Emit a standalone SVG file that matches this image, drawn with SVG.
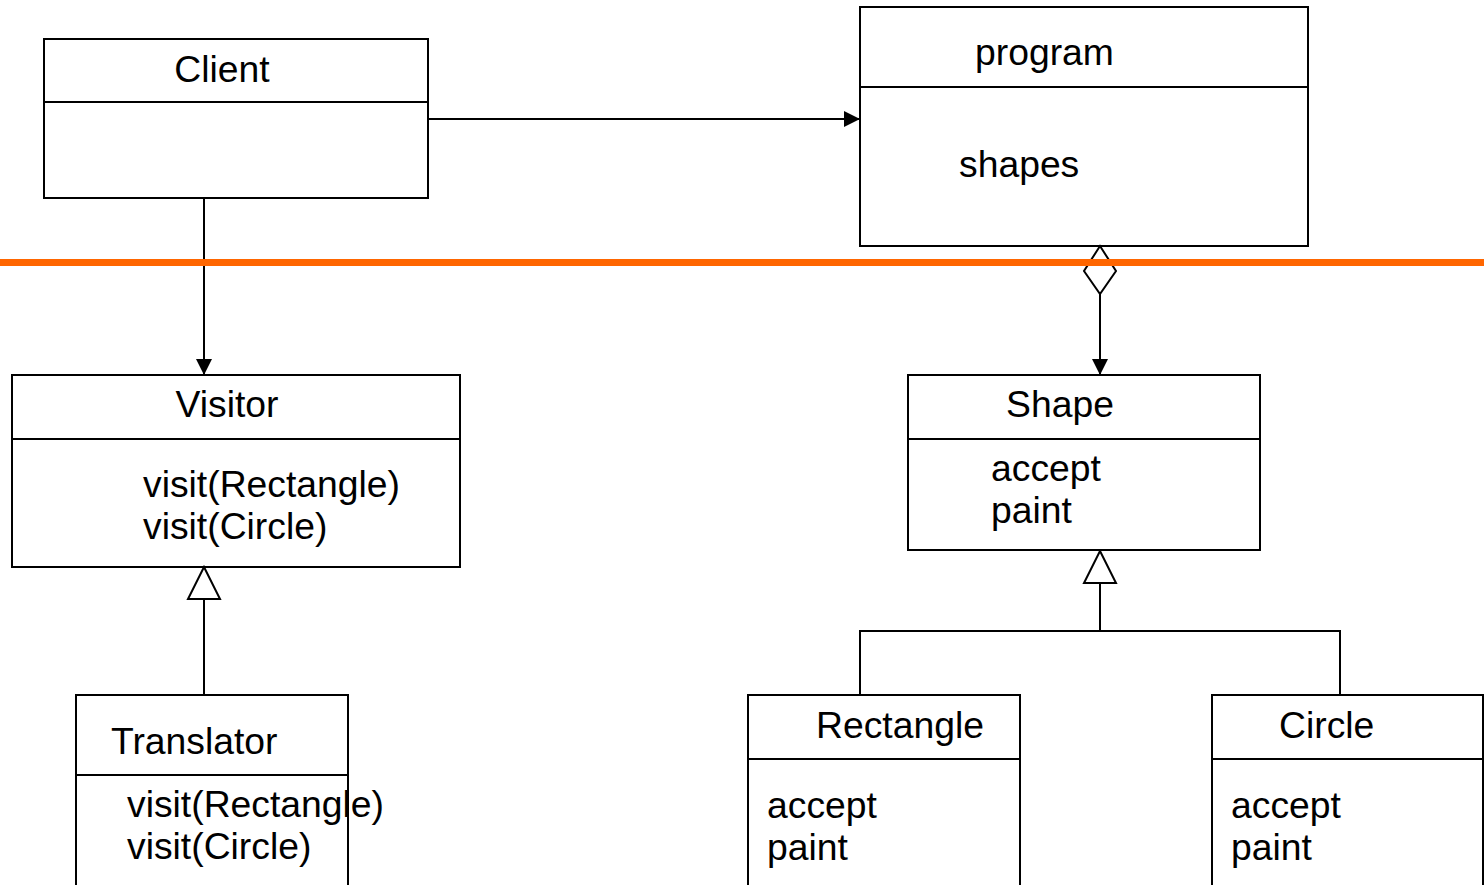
<svg xmlns="http://www.w3.org/2000/svg" width="1484" height="885" viewBox="0 0 1484 885">
<style>
.box{fill:#fff;stroke:#000;stroke-width:2}
.ln{fill:none;stroke:#000;stroke-width:2}
text{font-family:"Liberation Sans",Arial,sans-serif;font-size:37.3px;fill:#000}
.c{text-anchor:middle}
</style>
<defs>
<marker id="arr" viewBox="0 0 16 16" refX="16" refY="8" markerWidth="16" markerHeight="16" markerUnits="userSpaceOnUse" orient="auto">
<path d="M0,0 L16,8 L0,16 Z" fill="#000"/>
</marker>
</defs>
<rect width="1484" height="885" fill="#fff"/>
<g id="client">
<rect class="box" x="44" y="39" width="384" height="159"/>
<line class="ln" x1="44" y1="102" x2="428" y2="102"/>
<text class="c" x="222" y="82">Client</text>
</g>
<g id="program">
<rect class="box" x="860" y="7" width="448" height="239"/>
<line class="ln" x1="860" y1="87" x2="1308" y2="87"/>
<text x="975" y="65">program</text>
<text x="959" y="177">shapes</text>
</g>
<g id="visitor">
<rect class="box" x="12" y="375" width="448" height="192"/>
<line class="ln" x1="12" y1="439" x2="460" y2="439"/>
<text class="c" x="227" y="417">Visitor</text>
<text x="143" y="497">visit(Rectangle)</text>
<text x="143" y="539">visit(Circle)</text>
</g>
<g id="translator">
<rect class="box" x="76" y="695" width="272" height="200"/>
<line class="ln" x1="76" y1="775" x2="348" y2="775"/>
<text x="111" y="754">Translator</text>
<text x="127" y="817">visit(Rectangle)</text>
<text x="127" y="859">visit(Circle)</text>
</g>
<g id="shape">
<rect class="box" x="908" y="375" width="352" height="175"/>
<line class="ln" x1="908" y1="439" x2="1260" y2="439"/>
<text class="c" x="1060" y="417">Shape</text>
<text x="991" y="481">accept</text>
<text x="991" y="523">paint</text>
</g>
<g id="rectangle">
<rect class="box" x="748" y="695" width="272" height="200"/>
<line class="ln" x1="748" y1="759" x2="1020" y2="759"/>
<text x="816" y="738">Rectangle</text>
<text x="767" y="818">accept</text>
<text x="767" y="860">paint</text>
</g>
<g id="circle">
<rect class="box" x="1212" y="695" width="271" height="200"/>
<line class="ln" x1="1212" y1="759" x2="1484" y2="759"/>
<text x="1279" y="738">Circle</text>
<text x="1231" y="818">accept</text>
<text x="1231" y="860">paint</text>
</g>
<g id="connectors">
<line class="ln" x1="428" y1="119" x2="860" y2="119" marker-end="url(#arr)"/>
<line class="ln" x1="204" y1="198" x2="204" y2="375" marker-end="url(#arr)"/>
<path class="ln" d="M1100,294 L1100,375" marker-end="url(#arr)"/>
<path class="box" d="M1100,246 L1116,271 L1100,294 L1084,271 Z"/>
<line class="ln" x1="204" y1="599" x2="204" y2="695"/>
<path class="box" d="M204,567 L220,599 L188,599 Z"/>
<path class="ln" d="M1100,583 L1100,631 M860,695 L860,631 L1340,631 L1340,695"/>
<path class="box" d="M1100,551 L1116,583 L1084,583 Z"/>
</g>
<line x1="0" y1="262.5" x2="1484" y2="262.5" stroke="#ff6600" stroke-width="7"/>
</svg>
